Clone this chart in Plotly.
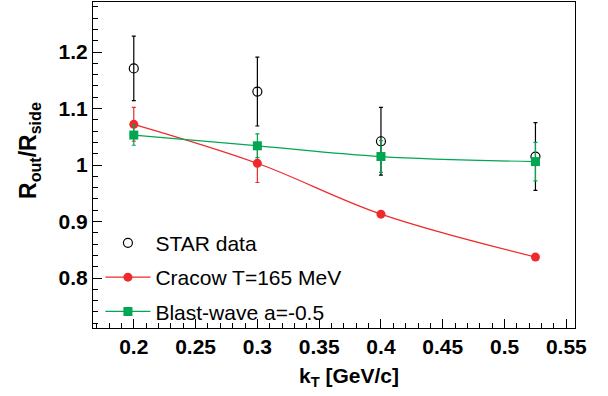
import plotly.graph_objects as go

kt = [0.2, 0.3, 0.4, 0.525]
star = [1.171, 1.130, 1.042, 1.015]
star_err = [0.057, 0.061, 0.060, 0.060]
cracow = [1.072, 1.003, 0.913, 0.837]
cracow_err = [0.030, 0.034, 0.0, 0.0]
blast = [1.053, 1.034, 1.015, 1.006]
blast_err = [0.018, 0.021, 0.028, 0.034]

xticks = [0.2, 0.25, 0.3, 0.35, 0.4, 0.45, 0.5, 0.55]
yticks = [0.8, 0.9, 1.0, 1.1, 1.2]
yticklabels = ["0.8", "0.9", "1", "1.1", "1.2"]

FONT = "Liberation Sans"
RED = "#ee2a2a"
GREEN = "#00a651"

fig = go.Figure()
fig.add_trace(go.Scatter(
    x=kt, y=star, mode="markers", name="STAR data",
    marker=dict(symbol="circle-open", size=9, color="black", line=dict(width=1.2)),
    error_y=dict(type="data", array=star_err, color="black", thickness=1.2, width=2),
    legendgroup="a",
))
fig.add_trace(go.Scatter(
    x=kt, y=cracow, mode="lines+markers", name="Cracow T=165 MeV",
    line=dict(color=RED, width=1.2, shape="spline"),
    marker=dict(symbol="circle", size=9, color=RED),
    error_y=dict(type="data", array=cracow_err, color=RED, thickness=1.2, width=2),
    legendgroup="b",
))
fig.add_trace(go.Scatter(
    x=kt, y=blast, mode="lines+markers", name="Blast-wave a=-0.5",
    line=dict(color=GREEN, width=1.2, shape="spline"),
    marker=dict(symbol="square", size=9, color=GREEN),
    error_y=dict(type="data", array=blast_err, color=GREEN, thickness=1.2, width=2),
    legendgroup="c",
))

fig.update_layout(
    width=608, height=396,
    margin=dict(l=93, r=33, t=2, b=68),
    paper_bgcolor="white", plot_bgcolor="white",
    font=dict(family=FONT, color="black"),
    showlegend=True,
    legend=dict(x=0.0154, y=0.323, xanchor="left", yanchor="top",
                font=dict(size=21, family=FONT), bgcolor="rgba(0,0,0,0)",
                tracegroupgap=4, itemwidth=45),
    xaxis=dict(
        range=[0.167, 0.557], tickvals=xticks, ticktext=[str(v) for v in xticks],
        ticks="inside", ticklen=9, tickwidth=1, tickcolor="black",
        minor=dict(dtick=0.01, ticks="inside", ticklen=5, tickcolor="black"),
        showgrid=False, zeroline=False,
        showline=True, linecolor="black", linewidth=1, mirror=True,
        tickfont=dict(size=21, family=FONT, weight="bold"),
    ),
    yaxis=dict(
        range=[0.7115, 1.2885], tickvals=yticks, ticktext=yticklabels,
        ticks="inside", ticklen=9, tickwidth=1, tickcolor="black",
        minor=dict(dtick=0.02, tick0=0.8, ticks="inside", ticklen=5, tickcolor="black"),
        showgrid=False, zeroline=False,
        showline=True, linecolor="black", linewidth=1, mirror=True,
        tickfont=dict(size=21, family=FONT, weight="bold"),
    ),
    annotations=[
        dict(text="k<sub>T</sub> [GeV/c]", xref="paper", yref="paper",
             x=0.531, y=-0.150, xanchor="center", yanchor="middle", showarrow=False,
             font=dict(size=21, family=FONT, weight="bold")),
        dict(text="R<sub>out</sub>/R<sub>side</sub>", xref="paper", yref="paper",
             x=-0.1307, y=0.543, xanchor="center", yanchor="middle", showarrow=False,
             textangle=-90, font=dict(size=23, family=FONT, weight="bold")),
    ],
)

fig.write_html("out.html")
